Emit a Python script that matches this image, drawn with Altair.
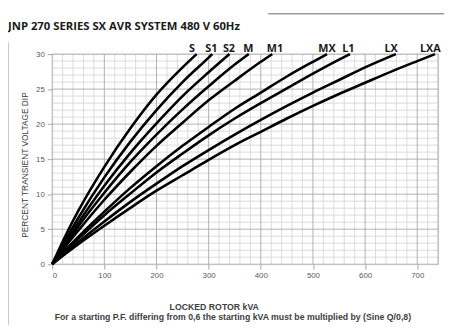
import altair as alt
import pandas as pd

# ---- data ----
series = ["S", "S1", "S2", "M", "M1", "MX", "L1", "LX", "LXA"]
S_kva = [0, 25, 50, 100, 150, 200, 250, 277]
S_dip = [0, 4.0, 7.6, 13.9, 19.4, 24.2, 28.1, 30]
S1_kva = [0, 25, 50, 100, 150, 200, 250, 300, 307]
S1_dip = [0, 3.4, 6.6, 12.4, 17.5, 22.0, 26.0, 29.5, 30]
S2_kva = [0, 25, 50, 100, 150, 200, 250, 300, 340]
S2_dip = [0, 3.05, 5.9, 11.2, 15.9, 20.1, 24.0, 27.4, 30]
M_kva = [0, 25, 50, 100, 150, 200, 250, 300, 350, 377]
M_dip = [0, 2.75, 5.4, 10.2, 14.6, 18.5, 22.1, 25.4, 28.5, 30]
M1_kva = [0, 25, 50, 100, 150, 200, 250, 300, 350, 400, 422]
M1_dip = [0, 2.5, 4.8, 9.2, 13.2, 16.9, 20.2, 23.4, 26.2, 28.9, 30]
MX_kva = [0, 25, 50, 100, 150, 200, 250, 300, 350, 400, 450, 500, 527]
MX_dip = [0, 2.0, 3.9, 7.5, 10.9, 14.0, 16.9, 19.6, 22.2, 24.5, 26.8, 28.9, 30]
L1_kva = [0, 25, 50, 100, 150, 200, 250, 300, 350, 400, 450, 500, 550, 571]
L1_dip = [0, 1.85, 3.6, 7.0, 10.1, 13.1, 15.8, 18.4, 20.8, 23.0, 25.1, 27.2, 29.2, 30]
LX_kva = [0, 25, 50, 100, 150, 200, 250, 300, 350, 400, 450, 500, 550, 600, 659]
LX_dip = [0, 1.6, 3.15, 6.1, 8.9, 11.5, 14.0, 16.3, 18.5, 20.6, 22.6, 24.5, 26.3, 28.1, 30]
LXA_kva = [0, 25, 50, 100, 150, 200, 250, 300, 350, 400, 450, 500, 550, 600, 650, 700, 734]
LXA_dip = [0, 1.45, 2.85, 5.5, 8.05, 10.5, 12.7, 14.9, 17.0, 18.9, 20.8, 22.6, 24.3, 25.9, 27.5, 29.0, 30]

label_kva = [268, 305, 339, 376, 427, 527, 568, 650, 725]
label_dip = [30, 30, 30, 30, 30, 30, 30, 30, 30]

x_ticks = [0, 100, 200, 300, 400, 500, 600, 700]
y_ticks = [0, 5, 10, 15, 20, 25, 30]
minor_x = [v for v in range(0, 741, 20) if v % 100 != 0]
minor_y = [v for v in range(0, 31) if v % 5 != 0]

title_text = "JNP 270 SERIES SX AVR SYSTEM 480 V 60Hz"
y_title = "PERCENT TRANSIENT VOLTAGE DIP"
x_title1 = "LOCKED ROTOR kVA"
x_title2 = "For a starting P.F. differing from 0,6 the starting kVA must be multiplied by (Sine Q/0,8)"

# ---- build tables ----
all_kva = [S_kva, S1_kva, S2_kva, M_kva, M1_kva, MX_kva, L1_kva, LX_kva, LXA_kva]
all_dip = [S_dip, S1_dip, S2_dip, M_dip, M1_dip, MX_dip, L1_dip, LX_dip, LXA_dip]
rows = []
for name, ks, ds in zip(series, all_kva, all_dip):
    for k, d in zip(ks, ds):
        rows.append({"series": name, "kva": k, "dip": d})
curves = pd.DataFrame(rows)
labels = pd.DataFrame({"series": series, "kva": label_kva, "dip": label_dip})

W, H = 393, 214
xs = alt.Scale(domain=[0, 740], nice=False, zero=True)
ys = alt.Scale(domain=[0, 30], nice=False)

x_axis = alt.Axis(values=x_ticks, grid=False, domain=False, tickSize=5, tickColor="#a6a6a6",
                  labelPadding=3, labelFontSize=8, labelColor="#595959", labelOverlap=False,
                  labelFont="Liberation Sans", title=None)
y_axis = alt.Axis(values=y_ticks, grid=False, domain=False, tickSize=5, tickColor="#a6a6a6",
                  labelPadding=3, labelFontSize=8, labelColor="#595959", labelOverlap=False,
                  labelFont="Liberation Sans", title=None)

X = lambda: alt.X("kva:Q", scale=xs, axis=x_axis)
Y = lambda: alt.Y("dip:Q", scale=ys, axis=y_axis)

vminor = alt.Chart(pd.DataFrame({"kva": minor_x})).mark_rule(color="#dadada", strokeWidth=1).encode(x=X())
hminor = alt.Chart(pd.DataFrame({"dip": minor_y})).mark_rule(color="#dadada", strokeWidth=1).encode(y=Y())
vmajor = alt.Chart(pd.DataFrame({"kva": x_ticks + [740]})).mark_rule(color="#b0b0b0", strokeWidth=1).encode(x=X())
hmajor = alt.Chart(pd.DataFrame({"dip": y_ticks})).mark_rule(color="#b0b0b0", strokeWidth=1).encode(y=Y())

lines = alt.Chart(curves).mark_line(color="black", strokeWidth=2.6, interpolate="monotone").encode(
    x=X(), y=Y(), detail="series:N")

curve_labels = alt.Chart(labels).mark_text(
    font="Open Sans", fontWeight="bold", fontSize=11, color="#1a1a1a",
    baseline="alphabetic", dy=-2).encode(x=X(), y=Y(), text="series:N")

one = pd.DataFrame({"t": [0]})
title_mark = alt.Chart(one).mark_text(
    text=title_text, font="Open Sans", fontWeight="bold", fontSize=11.5, color="#1a1a1a",
    align="left", baseline="alphabetic").encode(x=alt.value(-45), y=alt.value(-25))
ytitle_mark = alt.Chart(one).mark_text(
    text=y_title, font="Liberation Sans", fontSize=8.5, color="#404040", angle=270,
    align="center", baseline="middle").encode(x=alt.value(-28), y=alt.value(113))
xtitle1_mark = alt.Chart(one).mark_text(
    text=x_title1, font="Liberation Sans", fontWeight="bold", fontSize=8.9, color="#404040",
    align="center", baseline="middle").encode(x=alt.value(165), y=alt.value(258))
xtitle2_mark = alt.Chart(one).mark_text(
    text=x_title2, font="Liberation Sans", fontWeight="bold", fontSize=8.9, color="#404040",
    align="center", baseline="middle").encode(x=alt.value(184), y=alt.value(268))
top_rule = alt.Chart(one).mark_rule(color="#9a9a9a", strokeWidth=1.5).encode(
    x=alt.value(220), x2=alt.value(399), y=alt.value(-41))
left_rule = alt.Chart(one).mark_rule(color="#c8c8c8", strokeWidth=1).encode(
    x=alt.value(-44.5), y=alt.value(-12), y2=alt.value(276))

chart = alt.layer(
    vminor, hminor, vmajor, hmajor, lines, curve_labels,
    title_mark, ytitle_mark, xtitle1_mark, xtitle2_mark, top_rule, left_rule,
).properties(
    width=W, height=H,
    autosize=alt.AutoSizeParams(type="none"),
    padding={"left": 45, "top": 44, "right": 6, "bottom": 60},
).configure_view(stroke=None).configure(background="white")

chart.save("out.html", embed_options={"renderer": "svg", "actions": False})
